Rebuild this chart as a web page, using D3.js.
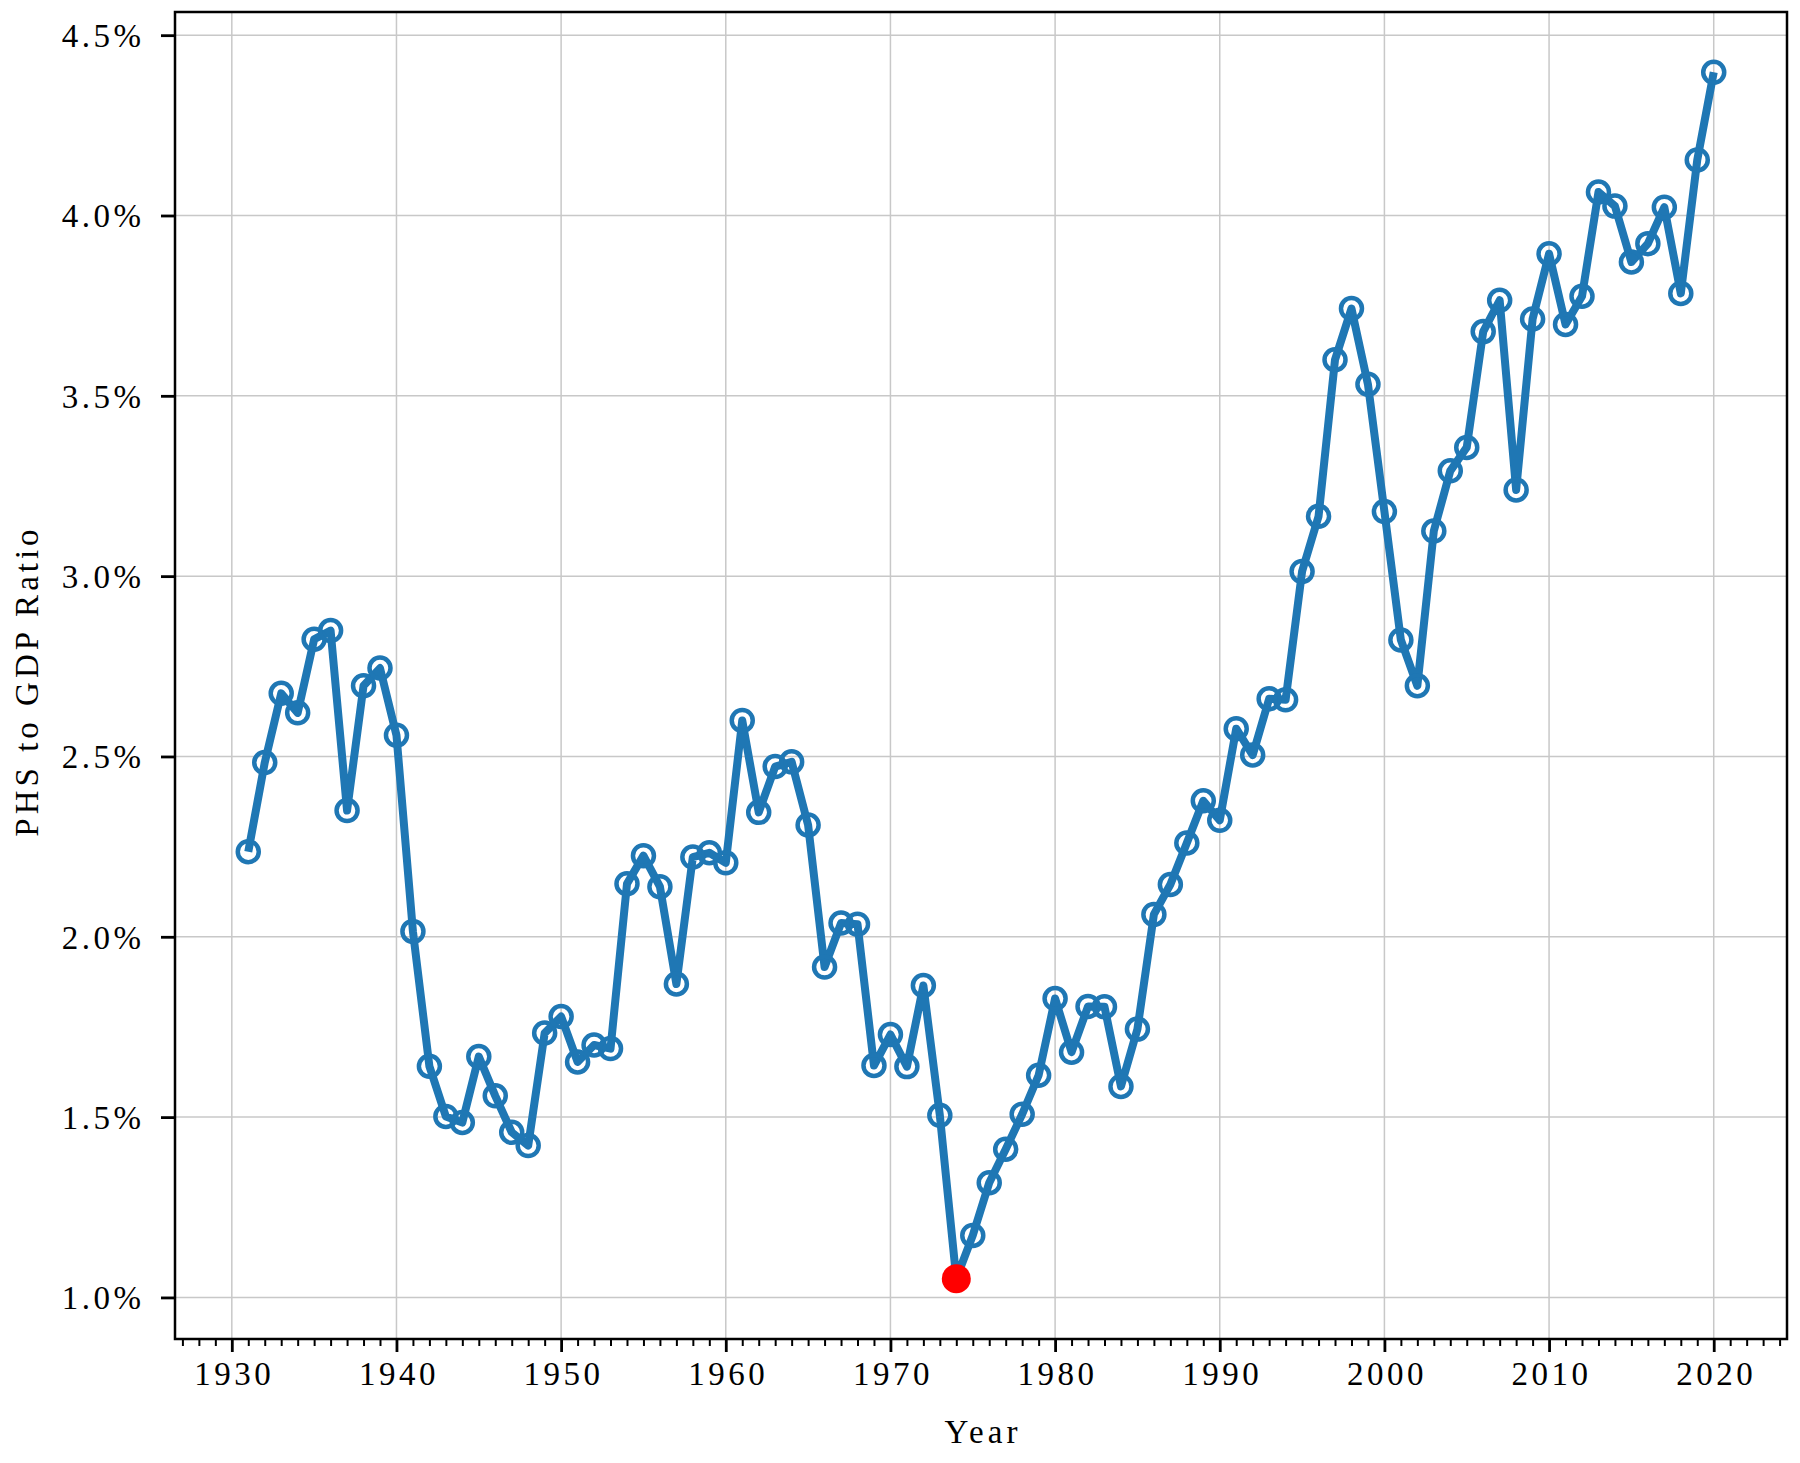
<!DOCTYPE html>
<html>
<head>
<meta charset="utf-8">
<script src="https://cdn.jsdelivr.net/npm/d3@7"></script>
<style>
  body { margin: 0; background: #fff; }
  text { font-family: "Liberation Serif", "Times New Roman", serif; fill: #000; }
</style>
</head>
<body>
<div id="chart"></div>
<script>
// PHS to GDP ratio, in percent, one value per year
var years = d3.range(1931, 2021);
var ratios = [
  2.236, 2.483, 2.675, 2.621, 2.825, 2.849, 2.350, 2.696, 2.745, 2.559,
  2.015, 1.641, 1.502, 1.485, 1.668, 1.559, 1.458, 1.421, 1.733, 1.779,
  1.653, 1.700, 1.690, 2.147, 2.225, 2.139, 1.869, 2.221, 2.233, 2.205,
  2.600, 2.345, 2.472, 2.485, 2.310, 1.916, 2.038, 2.035, 1.643, 1.729,
  1.640, 1.865, 1.505, 1.052, 1.172, 1.318, 1.411, 1.508, 1.616, 1.829,
  1.680, 1.807, 1.806, 1.585, 1.744, 2.062, 2.145, 2.260, 2.377, 2.323,
  2.577, 2.504, 2.660, 2.657, 3.013, 3.166, 3.600, 3.742, 3.532, 3.179,
  2.823, 2.696, 3.125, 3.292, 3.357, 3.678, 3.765, 3.239, 3.713, 3.894,
  3.698, 3.776, 4.065, 4.026, 3.871, 3.922, 4.023, 3.784, 4.154, 4.397
];
var yTicks = [1.0, 1.5, 2.0, 2.5, 3.0, 3.5, 4.0, 4.5];
var xTicks = [1930, 1940, 1950, 1960, 1970, 1980, 1990, 2000, 2010, 2020];
var minorYears = d3.range(1927, 2025);

var data = years.map(function(yr, i) { return { year: yr, value: ratios[i] }; });
var lowest = data[d3.minIndex(data, d => d.value)];

var width = 1800;
var height = 1463;
var margin = { top: 12, right: 13, bottom: 124, left: 175 };
var blue = "#1f77b4";

// 5% padding around the data like matplotlib does
function padded(ext) {
  var p = (ext[1] - ext[0]) * 0.05;
  return [ext[0] - p, ext[1] + p];
}

var xScale = d3.scaleLinear()
  .domain(padded(d3.extent(years)))
  .range([margin.left, width - margin.right]);

var yScale = d3.scaleLinear()
  .domain(padded(d3.extent(ratios)))
  .range([height - margin.bottom, margin.top]);

var svg = d3.select("#chart").append("svg")
  .attr("width", width)
  .attr("height", height);

var x0 = margin.left, x1 = width - margin.right;
var y0 = height - margin.bottom, y1 = margin.top;

/* grid */
var grid = svg.append("g").attr("class", "grid")
  .attr("stroke", "#c8c8c8").attr("stroke-width", 1.5);

grid.selectAll(".gx").data(xTicks).enter().append("line")
  .attr("x1", d => xScale(d)).attr("x2", d => xScale(d))
  .attr("y1", y0).attr("y2", y1);

grid.selectAll(".gy").data(yTicks).enter().append("line")
  .attr("x1", x0).attr("x2", x1)
  .attr("y1", d => yScale(d)).attr("y2", d => yScale(d));

/* line and markers */
var line = d3.line()
  .x(d => xScale(d.year))
  .y(d => yScale(d.value));

svg.append("path")
  .datum(data)
  .attr("d", line)
  .attr("fill", "none")
  .attr("stroke", blue)
  .attr("stroke-width", 8)
  .attr("stroke-linejoin", "round");

svg.append("g").selectAll("circle")
  .data(data).enter()
  .append("circle")
  .attr("cx", d => xScale(d.year))
  .attr("cy", d => yScale(d.value))
  .attr("r", 10.5)
  .attr("fill", "none")
  .attr("stroke", blue)
  .attr("stroke-width", 4.5);

svg.append("circle")
  .attr("cx", xScale(lowest.year))
  .attr("cy", yScale(lowest.value))
  .attr("r", 14.5)
  .attr("fill", "red");

/* axes */
var xAxis = svg.append("g")
  .attr("transform", `translate(0, ${y0})`)
  .call(d3.axisBottom(xScale).tickValues(xTicks).tickSize(13).tickPadding(10).tickFormat(d3.format("d")));

svg.append("g")
  .attr("transform", `translate(0, ${y0})`)
  .call(d3.axisBottom(xScale).tickValues(minorYears.filter(d => d % 10 !== 0)).tickSize(7).tickFormat(""))
  .call(g => g.select(".domain").remove())
  .selectAll("line").attr("stroke-width", 2);

var yAxis = svg.append("g")
  .attr("transform", `translate(${x0}, 0)`)
  .call(d3.axisLeft(yScale).tickValues(yTicks).tickSize(14).tickPadding(20).tickFormat(d => d.toFixed(1) + "%"));

[xAxis, yAxis].forEach(function(g) {
  g.select(".domain").remove();
  g.selectAll(".tick line").attr("stroke", "#000").attr("stroke-width", 2.8);
  g.selectAll(".tick text")
    .style("font-family", "'Liberation Serif', serif")
    .style("font-size", "33px")
    .style("letter-spacing", "3.5px");
});
xAxis.selectAll(".tick text").attr("dx", 2);
yAxis.selectAll(".tick text").attr("dy", "0.34em").attr("dx", 3.5);

/* frame */
svg.append("rect")
  .attr("x", x0).attr("y", y1)
  .attr("width", x1 - x0).attr("height", y0 - y1)
  .attr("fill", "none")
  .attr("stroke", "#000")
  .attr("stroke-width", 2.5);

/* labels */
svg.append("text")
  .attr("x", (x0 + x1) / 2 + 2)
  .attr("y", 1443)
  .attr("text-anchor", "middle")
  .style("font-size", "33px")
  .style("letter-spacing", "4px")
  .text("Year");

svg.append("text")
  .attr("transform", `translate(38, 681) rotate(-90)`)
  .attr("text-anchor", "middle")
  .style("font-size", "33px")
  .style("letter-spacing", "4px")
  .text("PHS to GDP Ratio");
</script>
</body>
</html>
